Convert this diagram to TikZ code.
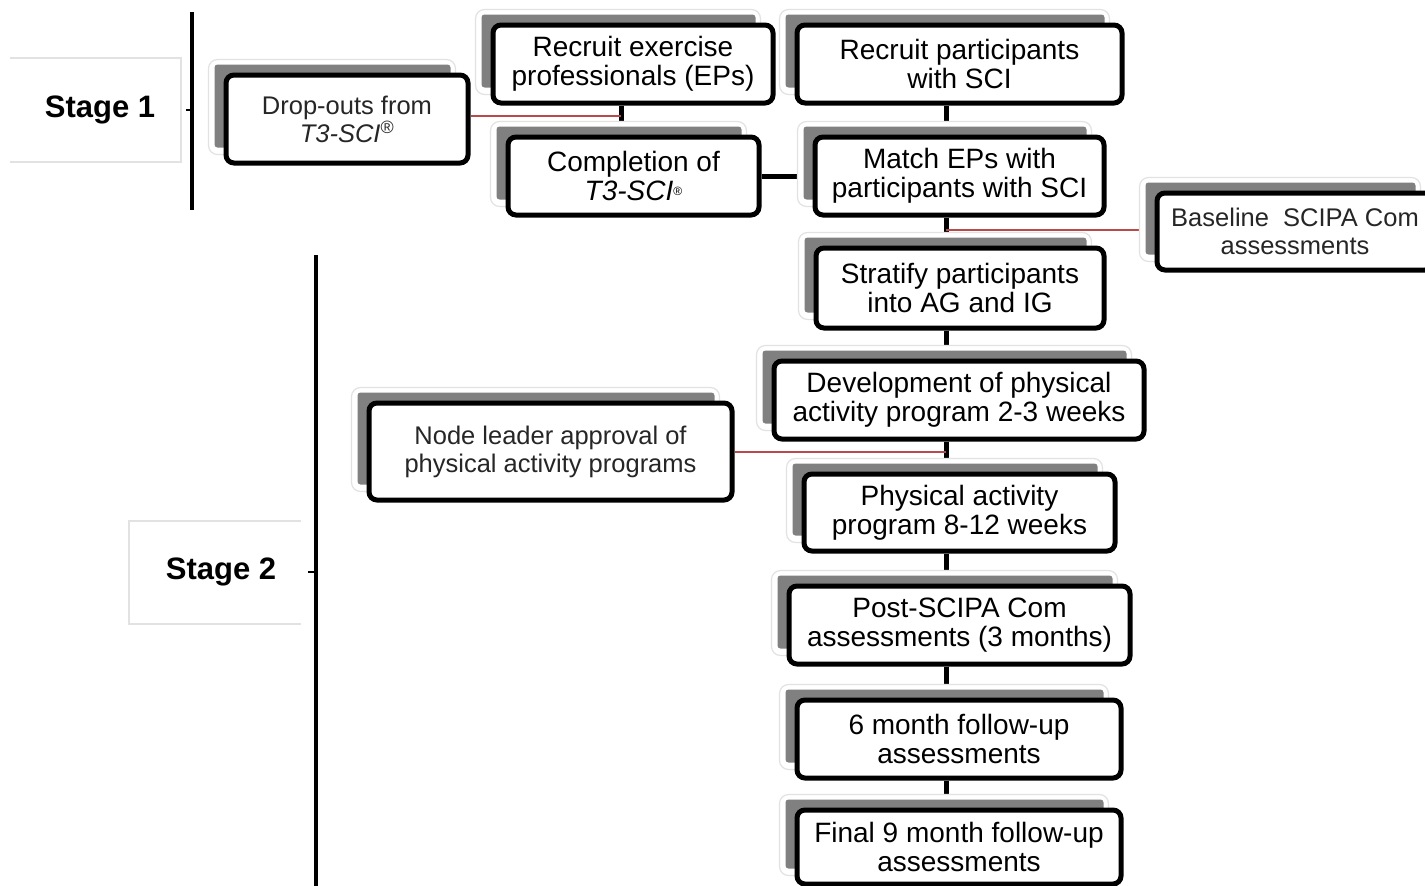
\documentclass[tikz,border=0pt]{standalone}
\usepackage{fontspec}
\setmainfont{Liberation Sans}
\usetikzlibrary{backgrounds}
\pgfdeclarelayer{conlayer}
\pgfdeclarelayer{shlayer}
\pgfsetlayers{conlayer,shlayer,main}
\definecolor{redline}{HTML}{B84A4A}
\definecolor{shadowgray}{HTML}{808080}
\definecolor{outlgray}{HTML}{E2E2E2}
\tikzset{
  mainbox/.style={draw=black, line width=5pt, rounded corners=8pt, fill=white,
    inner sep=0pt, align=center, font=\fontsize{28}{29}\selectfont},
  lightbox/.style={mainbox, font=\fontsize{25.5}{28}\selectfont, text=black!85},
  stagetext/.style={font=\fontsize{31}{33}\selectfont\bfseries, inner sep=0pt},
  conn/.style={line width=5pt, black},
  redconn/.style={line width=2pt, redline},
  outl/.style={draw=outlgray, line width=1.2pt, rounded corners=9pt, fill=white},
  shad/.style={fill=shadowgray, rounded corners=3pt},
  stagebox/.style={draw=outlgray, line width=1.2pt},
  stageline/.style={line width=4.5pt, black},
  tick/.style={line width=1.5pt, black}
}
\begin{document}
\begin{tikzpicture}[x=1pt,y=-1pt]
\useasboundingbox (0,0) rectangle (1425,886);
% ---- stage labels ----
\draw[stagebox] (10,58) -- (181,58) -- (181,162) -- (10,162);
\node[stagetext] (st1) at (100,110) {Stage 1};
\draw[stagebox] (301,521) -- (129,521) -- (129,624) -- (301,624);
\node[stagetext] (st2) at (221,572) {Stage 2};
\coordinate (s1top) at (192,12);
\coordinate (s1bot) at (192,210);
\coordinate (s1tick) at (186,110);
\draw[stageline] (s1top) -- (s1bot);
\draw[tick] (s1tick) -- (s1tick -| s1top);
\coordinate (s2top) at (316,255);
\coordinate (s2bot) at (316,890);
\coordinate (s2tick) at (308,572);
\draw[stageline] (s2top) -- (s2bot);
\draw[tick] (s2tick) -- (s2tick -| s2top);
% ---- boxes ----
\node[mainbox, minimum width=280pt, minimum height=78pt] (ep) at (633,64) {Recruit exercise\\professionals (EPs)};
\node[mainbox, minimum width=325pt, minimum height=78pt] (sci) at (959.5,64) {Recruit participants\\with SCI};
\node[lightbox, minimum width=242pt, minimum height=88pt] (drop) at (347,119) {Drop-outs from\\\textit{T3-SCI}\textsuperscript{®}};
\node[mainbox, minimum width=251pt, minimum height=78pt] (comp) at (633.5,176) {Completion of\\\textit{T3-SCI}\raisebox{5pt}{\fontsize{12}{12}\selectfont ®}};
\node[mainbox, minimum width=289pt, minimum height=78pt] (match) at (959.5,176) {Match EPs with\\participants with SCI};
\node[lightbox, minimum width=276pt, minimum height=77pt] (base) at (1295,231.5) {Baseline\ \ SCIPA Com\\assessments};
\node[mainbox, minimum width=288pt, minimum height=80pt] (strat) at (960,288) {Stratify participants\\into AG and IG};
\node[mainbox, minimum width=370pt, minimum height=78pt] (dev) at (959,400) {Development of physical\\activity program 2-3 weeks};
\node[lightbox, minimum width=363pt, minimum height=97pt] (lead) at (550.5,451.5) {Node leader approval of\\physical activity programs};
\node[mainbox, minimum width=311pt, minimum height=77pt] (pa) at (959.5,512.5) {Physical activity\\program 8-12 weeks};
\node[mainbox, minimum width=341pt, minimum height=78pt] (post) at (959.5,625) {Post-SCIPA Com\\assessments (3 months)};
\node[mainbox, minimum width=324pt, minimum height=78pt] (six) at (959,739) {6 month follow-up\\assessments};
\node[mainbox, minimum width=324pt, minimum height=74pt] (final) at (959,847) {Final 9 month follow-up\\assessments};
% ---- shadows and outlines ----
\begin{pgfonlayer}{shlayer}
\foreach \n in {ep,sci,drop,comp,match,base,strat,dev,lead,pa,post,six,final}{
  \draw[outl] ([shift={(-15,-13)}]\n.north west) rectangle ([shift={(-15,-11)}]\n.south east);
  \fill[shad] ([shift={(-9,-8)}]\n.north west) rectangle ([shift={(-20,-18)}]\n.south east);
}
\end{pgfonlayer}
% ---- connectors ----
\begin{pgfonlayer}{conlayer}
\coordinate (tx) at (946,0);
\coordinate (ex) at (621,0);
\draw[conn] (ep.south -| ex) -- (comp.north -| ex);
\coordinate (j1) at (621,116);
\draw[redconn] (drop.east |- j1) -- (j1);
\draw[conn] (comp.east) -- (match.west);
\draw[conn] (sci.south -| tx) -- (match.north -| tx);
\draw[conn] (match.south -| tx) -- (strat.north -| tx);
\coordinate (j2) at (946,230);
\draw[redconn] (j2) -- (base.west |- j2);
\draw[conn] (strat.south -| tx) -- (dev.north -| tx);
\draw[conn] (dev.south -| tx) -- (pa.north -| tx);
\coordinate (j3) at (946,452);
\draw[redconn] (lead.east |- j3) -- (j3);
\draw[conn] (pa.south -| tx) -- (post.north -| tx);
\draw[conn] (post.south -| tx) -- (six.north -| tx);
\draw[conn] (six.south -| tx) -- (final.north -| tx);
\end{pgfonlayer}
\end{tikzpicture}
\end{document}
